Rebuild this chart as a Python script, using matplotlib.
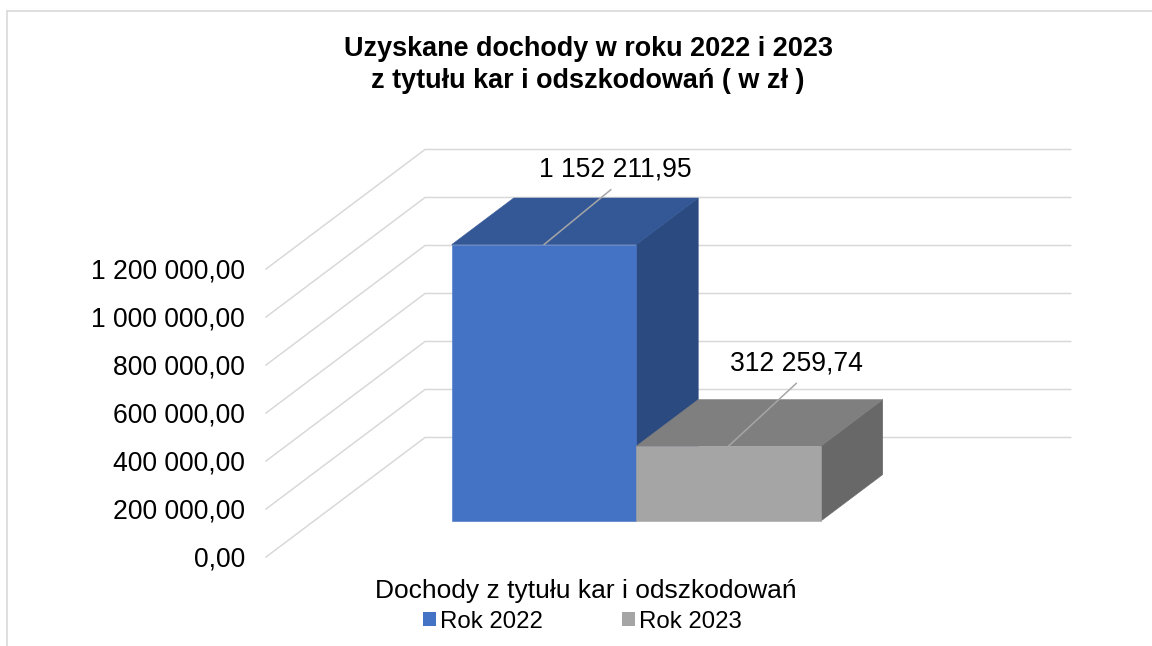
import matplotlib
matplotlib.use('Agg')
import matplotlib.pyplot as plt
from matplotlib.lines import Line2D
from matplotlib.patches import Patch

plt.rcParams['font.family'] = ['Liberation Sans', 'DejaVu Sans']

# chart values
series = ['Rok 2022', 'Rok 2023']
values = [1152211.95, 312259.74]
value_labels = ['1 152 211,95', '312 259,74']
ticks = [0, 200000, 400000, 600000, 800000, 1000000, 1200000]
tick_labels = ['0,00', '200 000,00', '400 000,00', '600 000,00',
               '800 000,00', '1 000 000,00', '1 200 000,00']
category = 'Dochody z tytułu kar i odszkodowań'

# face colours: front, top, side
front_colors = ['#4472c4', '#a5a5a5']
top_colors = ['#345796', '#7f7f7f']
side_colors = ['#2a4a80', '#686868']

# scale of the fake 3d box
PX_X = 184.5          # pixels per category
PX_Y = 48 / 200000    # pixels per value unit
X0, Y0 = 266, 557     # pixel of front-left corner of floor
DEPTH_X = 159 / PX_X
DEPTH_Y = 119.5 / PX_Y
PLANE_W = 3.5
BAR_START = 0.748
D_FRONT = 0.30
D_BACK = 0.69

fig = plt.figure(figsize=(11.52, 6.46), dpi=100)
ax = fig.add_axes([0, 0, 1, 1])
ax.set_xlim(-X0 / PX_X, (1152 - X0) / PX_X)
ax.set_ylim(-(646 - Y0) / PX_Y, Y0 / PX_Y)
ax.axis('off')


def proj(x, v, d):
    # category pos, value, depth -> flat data coords
    return x + d * DEPTH_X, v + d * DEPTH_Y


# grid on the left wall and back wall
for t, lab in zip(ticks, tick_labels):
    pts = [proj(0, t, 0), proj(0, t, 1), proj(PLANE_W, t, 1)]
    ax.plot([p[0] for p in pts], [p[1] for p in pts], color='#d9d9d9', lw=1.1,
            solid_joinstyle='miter', zorder=1)
    ax.annotate(lab, xy=(0, t), xytext=(-15, -1.5), textcoords='offset points',
                ha='right', va='center', fontsize=19.1, color='#000000')

# bars, left to right so the second sits in front of the first one's side
for i, v in enumerate(values):
    x1 = BAR_START + i
    x2 = x1 + 1
    front = [proj(x1, 0, D_FRONT), proj(x2, 0, D_FRONT), proj(x2, v, D_FRONT), proj(x1, v, D_FRONT)]
    top = [proj(x1, v, D_FRONT), proj(x2, v, D_FRONT), proj(x2, v, D_BACK), proj(x1, v, D_BACK)]
    side = [proj(x2, 0, D_FRONT), proj(x2, 0, D_BACK), proj(x2, v, D_BACK), proj(x2, v, D_FRONT)]
    for poly, col in [(side, side_colors[i]), (top, top_colors[i]), (front, front_colors[i])]:
        ax.fill([p[0] for p in poly], [p[1] for p in poly], color=col, lw=0.4, zorder=3 + i)

    # value label with leader line
    cx, cy = proj(x1 + 0.5, v, D_FRONT)
    off = [(67, 55), (68, 63)][i]
    ax.annotate('', xy=(cx, cy), xytext=(off[0] * 0.72, off[1] * 0.72), textcoords='offset points',
                arrowprops=dict(arrowstyle='-', color='#a6a6a6', lw=1.1, shrinkA=0, shrinkB=0), zorder=6)
    txt_off = [(71, 75), (68, 83)][i]
    ax.annotate(value_labels[i], xy=(cx, cy), xytext=(txt_off[0] * 0.72, txt_off[1] * 0.72),
                textcoords='offset points', ha='center', va='center', fontsize=19.1,
                color='#000000', zorder=7)

fig.text(588 / 1152, 1 - 65 / 646, 'Uzyskane dochody w roku 2022 i 2023\nz tytułu kar i odszkodowań ( w zł )',
         ha='center', va='center', fontsize=19.45, fontweight='bold', color='#000000', linespacing=1.3)
fig.text(585.5 / 1152, 1 - 591 / 646, category, ha='center', va='center', fontsize=19, color='#000000')

handles = [Patch(facecolor=c, edgecolor='none', label=s) for c, s in zip(front_colors, series)]
ax.legend(handles=handles, loc='center', bbox_to_anchor=(582 / 1152, 1 - 621.5 / 646),
          bbox_transform=fig.transFigure, ncol=2, frameon=False, fontsize=17.3,
          handlelength=0.55, handleheight=0.55, handletextpad=0.15, columnspacing=3.3,
          borderpad=0, borderaxespad=0, labelcolor='#000000')

# chart frame, only top and left are inside the crop
fig.add_artist(Line2D([7 / 1152, 7 / 1152], [0, 1 - 10.5 / 646], color='#d9d9d9', lw=1.2))
fig.add_artist(Line2D([7 / 1152, 1], [1 - 10.5 / 646, 1 - 10.5 / 646], color='#d9d9d9', lw=1.2))

fig.savefig('out.png', dpi=100, facecolor='white')
